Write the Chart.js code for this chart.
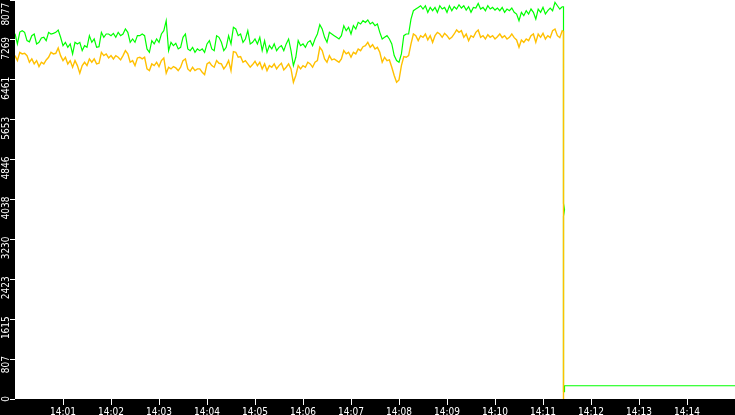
<!DOCTYPE html>
<html>
<head>
<meta charset="utf-8">
<script src="https://cdn.jsdelivr.net/npm/chart.js@4.4.0/dist/chart.umd.min.js"></script>
<style>
    html, body { margin: 0; padding: 0; background: #000; }
    #wrap { width: 735px; height: 415px; position: relative; }
</style>
</head>
<body>
<div id="wrap"><canvas id="myChart"></canvas></div>
<script>
// one sample every 3 seconds, starting at 14:00:00
var sampleStep = 3;

var greenVals = [
    7394, 7188, 7428, 7456, 7422, 7254, 7230, 7355, 7389, 7188,
    7220, 7308, 7322, 7254, 7422, 7389, 7402, 7422, 7470, 7322,
    7153, 7220, 7119, 7188, 6986, 7220, 7188, 7220, 7052, 7153,
    7119, 7355, 7220, 7288, 7119, 7132, 7422, 7322, 7389, 7389,
    7355, 7402, 7322, 7422, 7355, 7389, 7490, 7422, 7220, 7288,
    7220, 7355, 7355, 7389, 7355, 7086, 7018, 7254, 7188, 7288,
    7220, 7389, 7456, 7658, 7052, 7220, 7153, 7200, 7086, 7119,
    7322, 7389, 7086, 7052, 7119, 7018, 7086,
    7052, 7086, 7018, 7188, 7254, 7086, 7052, 7355, 7322, 7220,
    7052, 7119, 7355, 7188, 7523, 7490, 7355, 7389, 7220, 7288,
    7456, 7188, 7220, 7288, 7188, 7322, 7052, 7254, 7018, 7153,
    7086, 7188, 7052, 7119, 7153, 7052, 7188, 7288, 7052, 6749,
    6918, 7254, 7153, 7188, 7119, 7220, 7254, 7153, 7288, 7389,
    7577, 7490, 7322, 7220, 7422, 7389, 7355, 7322, 7288, 7355,
    7557, 7456, 7523, 7389, 7557, 7490, 7624, 7591, 7658, 7624,
    7671, 7591, 7624, 7557, 7591, 7422, 7288,
    7322, 7355, 7288, 7188, 6951, 6850, 6817, 6986, 7355, 7389,
    7389, 7691, 7860, 7894, 7927, 7961, 7894, 7961, 7827, 7927,
    7860, 7927, 7827, 7961, 7894, 7927, 7827, 7961, 7860, 7940,
    7894, 7981, 7914, 7961, 7873, 7940, 7827, 7927, 7914, 8008,
    7894, 7927, 7860, 7961, 7894, 7927, 7873, 7914, 7860, 7927,
    7827, 7894, 7860, 7914, 7827, 7793, 7658, 7827, 7760, 7860,
    7793, 7894, 7827, 7691, 7894, 7827, 7927, 7793, 7860, 7914,
    7860, 8028, 7961, 7894, 7940
];

var orangeVals = [
    6951, 6850, 7018, 6986, 6998, 6951, 6817, 6884, 6783, 6850,
    6729, 6817, 6783, 6864, 6918, 7018, 6986, 6998, 7106, 6951,
    6850, 6918, 6783, 6850, 6716, 6850, 6749, 6595, 6749, 6817,
    6749, 6884, 6817, 6884, 6783, 6796, 7018, 6951, 6986, 6904,
    6951, 6884, 6951, 6918, 6864, 6951, 7052, 6986, 6817, 6850,
    6749, 6904, 6918, 6884, 6918, 6682, 6648, 6783, 6749, 6817,
    6729, 6850, 6904, 6595, 6716, 6682, 6729, 6702, 6648, 6716,
    6850, 6884, 6682, 6635, 6716, 6648, 6682,
    6682, 6615, 6568, 6783, 6817, 6749, 6716, 6850, 6796, 6783,
    6682, 6749, 6850, 6648, 7032, 7018, 6918, 6931, 6817, 6850,
    6783, 6716, 6770, 6837, 6749, 6817, 6682, 6783, 6648, 6749,
    6716, 6783, 6682, 6749, 6796, 6662, 6716, 6783, 6682, 6413,
    6548, 6749, 6682, 6749, 6716, 6817, 6783, 6716, 6817, 6850,
    7119, 7052, 6884, 6817, 6951, 6864, 6884, 6850, 6817, 6884,
    7052, 6986, 7018, 6918, 7018, 6986, 7086, 7052, 7132, 7153,
    7220, 7119, 7173, 7086, 7119, 7018, 6817,
    6918, 6850, 6864, 6716, 6548, 6413, 6460, 6749, 6931, 6918,
    6951, 7188, 7389, 7355, 7254, 7355, 7322, 7389, 7268, 7355,
    7220, 7355, 7422, 7389, 7322, 7402, 7355, 7288, 7322, 7389,
    7470, 7422, 7456, 7322, 7389, 7254, 7355, 7322, 7422, 7470,
    7322, 7355, 7288, 7375, 7322, 7355, 7288, 7335, 7389, 7315,
    7355, 7288, 7322, 7389, 7315, 7268, 7119, 7268, 7220, 7288,
    7254, 7355, 7389, 7220, 7389, 7322, 7402, 7288, 7355, 7315,
    7456, 7490, 7355, 7315, 7456
];

// the drop around 14:11:25 (seconds after 14:00:00)
var greenTailSec = [685.625, 685.625, 686.875, 685.625, 685.625, 686.875, 686.875, 900];
var greenTailVals = [7940, 3960, 3830, 3700, 147, 147, 268, 268];
var orangeTailSec = [685.625, 685.625];
var orangeTailVals = [7440, 0];

var yTickLabels = [0, 807, 1615, 2423, 3230, 4038, 4846, 5653, 6461, 7269, 8077];
var xTickLabels = ['14:01', '14:02', '14:03', '14:04', '14:05', '14:06', '14:07',
    '14:08', '14:09', '14:10', '14:11', '14:12', '14:13', '14:14'];
var yMax = 8077;
var xMaxSec = 900;

function toPoints(vals, tailSec, tailVals) {
    var pts = [];
    for (var i = 0; i < vals.length; i++) {
        pts.push({x: i * sampleStep, y: vals[i]});
    }
    for (var j = 0; j < tailSec.length; j++) {
        pts.push({x: tailSec[j], y: tailVals[j]});
    }
    return pts;
}

var bgPlugin = {
    id: 'bg',
    beforeDraw: function (chart) {
        var ctx = chart.ctx, a = chart.chartArea;
        ctx.save();
        ctx.fillStyle = '#000';
        ctx.fillRect(0, 0, chart.width, chart.height);
        ctx.fillStyle = '#fff';
        ctx.fillRect(a.left, a.top, a.right - a.left, a.bottom - a.top);
        ctx.restore();
    }
};

var tickFont = {family: "'DejaVu Sans Condensed', 'DejaVu Sans', sans-serif", size: 10};

var ctx = document.getElementById("myChart").getContext('2d');
var myChart = new Chart(ctx, {
    type: 'line',
    data: {
        datasets: [{
            label: 'green',
            data: toPoints(greenVals, greenTailSec, greenTailVals),
            borderColor: '#00ff00',
            borderWidth: 1.2,
            pointRadius: 0,
            tension: 0,
            fill: false,
            order: 2
        }, {
            label: 'orange',
            data: toPoints(orangeVals, orangeTailSec, orangeTailVals),
            borderColor: '#ffc000',
            borderWidth: 1.4,
            pointRadius: 0,
            tension: 0,
            fill: false,
            order: 1
        }]
    },
    options: {
        responsive: true,
        maintainAspectRatio: false,
        animation: false,
        layout: {padding: 0},
        plugins: {legend: {display: false}, tooltip: {enabled: false}},
        scales: {
            x: {
                type: 'linear',
                min: 0,
                max: xMaxSec,
                border: {display: false},
                grid: {drawOnChartArea: false, tickLength: 6, tickColor: '#fff'},
                ticks: {
                    color: '#fff', font: tickFont, padding: 1,
                    maxRotation: 0, autoSkip: false,
                    callback: function (v, i) { return xTickLabels[i]; }
                },
                afterBuildTicks: function (s) {
                    s.ticks = xTickLabels.map(function (l, k) { return {value: (k + 1) * 60}; });
                },
                afterFit: function (s) {
                    s.height = 16;
                    s.paddingLeft = 0;
                    s.paddingRight = 0;
                }
            },
            y: {
                min: 0,
                max: yMax,
                border: {display: false},
                grid: {drawOnChartArea: false, tickLength: 5, tickColor: '#fff'},
                ticks: {
                    color: '#fff', font: tickFont, padding: 4, labelOffset: -3,
                    minRotation: 90, maxRotation: 90, autoSkip: false,
                    callback: function (v) {
                        // keep the top label inside the canvas
                        return v === yMax ? v + '  ' : String(v);
                    }
                },
                afterBuildTicks: function (s) {
                    s.ticks = yTickLabels.map(function (v) { return {value: v}; });
                },
                afterFit: function (s) {
                    s.width = 15;
                    s.paddingTop = 0;
                    s.paddingBottom = 0;
                }
            }
        }
    },
    plugins: [bgPlugin]
});
</script>
</body>
</html>
